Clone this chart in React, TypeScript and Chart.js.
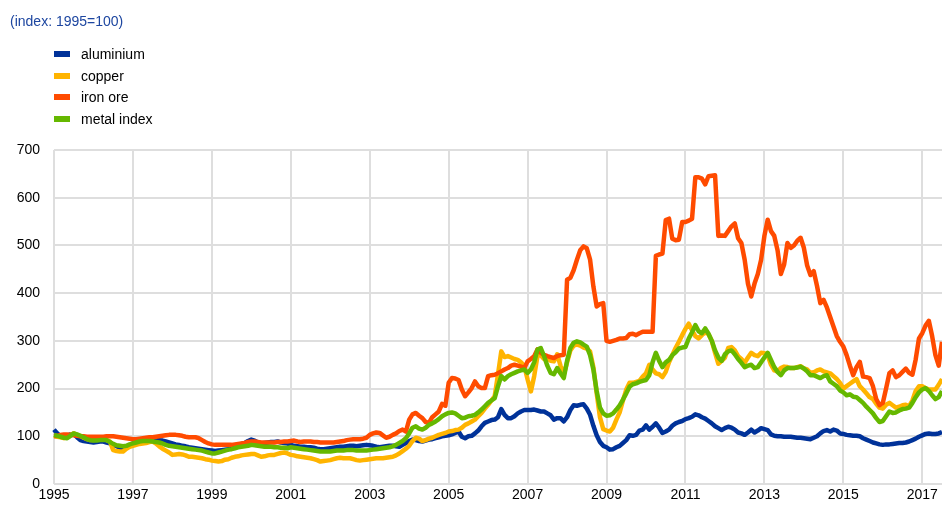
import React, { useEffect, useRef } from "react";
import { Chart, registerables } from "chart.js";

Chart.register(...registerables);

// Tick labels on the x axis (every second year) and the monthly span they cover
const tickYears = ["1995", "1997", "1999", "2001", "2003", "2005", "2007", "2009", "2011", "2013", "2015", "2017"];
const firstYear = 1995;
const monthsShown = 271; // Jan 1995 .. Jul 2017

// Monthly index values (1995 = 100)
const aluminium = [
  114, 106, 100, 99, 101, 104, 105, 98, 92, 90, 89, 88, // 1995
  87, 88, 89, 89, 87, 85, 82, 79, 76, 74, 76, 81, // 1996
  85, 88, 90, 91, 91, 92, 93, 92, 92, 91, 89, 87, // 1997
  85, 83, 82, 80, 79, 77, 76, 75, 74, 73, 72, 71, // 1998
  70, 69, 70, 71, 72, 73, 76, 79, 82, 84, 86, 90, // 1999
  93, 91, 87, 85, 86, 87, 88, 88, 89, 87, 86, 85, // 2000
  82, 80, 79, 78, 78, 77, 77, 76, 74, 73, 73, 74, // 2001
  75, 76, 77, 78, 78, 79, 80, 80, 79, 80, 81, 82, // 2002
  81, 80, 78, 77, 78, 79, 80, 80, 79, 78, 82, 86, // 2003
  90, 93, 92, 90, 89, 91, 93, 94, 96, 98, 100, 101, // 2004
  102, 104, 107, 110, 99, 96, 100, 101, 106, 112, 121, 128, // 2005
  131, 134, 135, 140, 157, 145, 138, 138, 142, 148, 152, 155, // 2006
  155, 155, 156, 154, 152, 152, 148, 144, 135, 138, 138, 131, // 2007
  140, 155, 165, 164, 166, 167, 158, 145, 122, 102, 88, 80, // 2008
  77, 72, 73, 77, 80, 86, 92, 102, 101, 103, 112, 114, // 2009
  123, 114, 120, 127, 118, 107, 110, 114, 122, 127, 130, 132, // 2010
  136, 138, 141, 146, 144, 140, 137, 132, 127, 121, 117, 113, // 2011
  117, 120, 118, 114, 108, 106, 103, 108, 114, 108, 112, 117, // 2012
  115, 113, 104, 101, 100, 100, 99, 99, 99, 98, 97, 97, // 2013
  96, 95, 94, 97, 100, 106, 111, 113, 110, 114, 112, 106, // 2014
  105, 103, 102, 101, 101, 100, 96, 93, 90, 87, 85, 83, // 2015
  82, 83, 83, 84, 85, 86, 86, 87, 89, 92, 95, 99, // 2016
  102, 105, 106, 105, 105, 106, 109, // 2017
];

const copper = [
  101, 99, 98, 96, 98, 103, 106, 103, 101, 97, 94, 92, // 1995
  92, 93, 94, 94, 92, 89, 71, 69, 68, 68, 74, 78, // 1996
  80, 82, 84, 85, 86, 88, 89, 85, 79, 74, 70, 66, // 1997
  61, 62, 63, 62, 60, 57, 57, 56, 55, 54, 52, 51, // 1998
  49, 48, 47, 48, 51, 52, 55, 57, 58, 60, 61, 62, // 1999
  63, 63, 60, 57, 58, 60, 61, 61, 63, 65, 66, 64, // 2000
  61, 60, 58, 57, 56, 55, 54, 52, 50, 47, 48, 49, // 2001
  50, 52, 54, 55, 54, 54, 54, 52, 50, 49, 50, 51, // 2002
  52, 53, 54, 54, 54, 55, 56, 57, 60, 64, 69, 74, // 2003
  80, 90, 97, 95, 90, 92, 95, 97, 100, 103, 105, 107, // 2004
  110, 111, 113, 114, 118, 124, 127, 131, 135, 142, 149, 158, // 2005
  166, 175, 184, 230, 278, 266, 268, 265, 262, 260, 255, 247, // 2006
  219, 194, 226, 268, 270, 262, 264, 258, 257, 272, 248, 229, // 2007
  255, 280, 290, 292, 290, 286, 284, 278, 245, 190, 140, 115, // 2008
  112, 110, 118, 135, 150, 175, 198, 212, 212, 214, 216, 225, // 2009
  232, 250, 240, 232, 230, 224, 235, 255, 270, 285, 298, 312, // 2010
  325, 336, 322, 310, 305, 312, 318, 314, 300, 275, 252, 258, // 2011
  265, 285, 287, 280, 268, 262, 254, 265, 275, 270, 268, 275, // 2012
  274, 270, 250, 238, 236, 243, 246, 245, 243, 243, 245, 247, // 2013
  242, 240, 233, 234, 238, 240, 236, 234, 232, 226, 220, 212, // 2014
  200, 205, 210, 215, 220, 205, 198, 190, 182, 178, 168, 160, // 2015
  158, 166, 170, 165, 160, 162, 165, 166, 163, 175, 195, 205, // 2016
  205, 201, 198, 198, 198, 208, 220, // 2017
];

const ironOre = [
  100, 101, 103, 104, 104, 103, 102, 101, 100, 100, 99, 99, // 1995
  99, 99, 99, 99, 100, 100, 100, 99, 98, 97, 96, 95, // 1996
  94, 94, 95, 96, 97, 98, 98, 99, 100, 101, 102, 103, // 1997
  103, 103, 102, 101, 99, 98, 98, 98, 96, 92, 88, 85, // 1998
  83, 82, 82, 82, 82, 82, 82, 83, 84, 85, 86, 88, // 1999
  89, 89, 88, 87, 87, 87, 87, 87, 88, 88, 89, 89, // 2000
  90, 91, 89, 88, 89, 89, 89, 88, 88, 87, 87, 87, // 2001
  87, 87, 88, 89, 90, 92, 93, 94, 94, 94, 95, 97, // 2002
  103, 106, 108, 107, 102, 97, 99, 103, 106, 111, 114, 110, // 2003
  135, 146, 149, 143, 138, 130, 128, 140, 146, 152, 168, 164, // 2004
  212, 222, 221, 218, 198, 184, 192, 201, 215, 205, 201, 201, // 2005
  226, 228, 229, 232, 236, 240, 243, 248, 250, 248, 246, 243, // 2006
  257, 262, 268, 282, 275, 271, 268, 266, 264, 268, 270, 271, // 2007
  428, 432, 448, 470, 490, 498, 494, 470, 414, 372, 377, 379, // 2008
  300, 298, 300, 302, 305, 305, 306, 314, 315, 312, 316, 319, // 2009
  319, 319, 319, 478, 481, 483, 553, 556, 514, 511, 512, 549, // 2010
  549, 552, 556, 643, 643, 640, 628, 645, 646, 647, 520, 521, // 2011
  520, 530, 540, 546, 515, 505, 470, 420, 393, 420, 440, 470, // 2012
  520, 554, 530, 520, 490, 440, 460, 505, 495, 500, 510, 516, // 2013
  495, 458, 438, 446, 415, 379, 386, 370, 350, 330, 310, 298, // 2014
  288, 270, 248, 228, 245, 256, 225, 224, 222, 205, 178, 165, // 2015
  170, 200, 232, 238, 224, 228, 235, 242, 233, 229, 261, 305, // 2016
  316, 332, 342, 310, 270, 248, 298, // 2017
];

const metalIndex = [
  103, 101, 99, 97, 96, 101, 106, 104, 101, 98, 94, 92, // 1995
  91, 91, 92, 92, 92, 88, 84, 81, 80, 79, 80, 83, // 1996
  85, 87, 89, 90, 90, 90, 89, 88, 87, 85, 82, 80, // 1997
  79, 78, 77, 76, 75, 74, 73, 72, 71, 70, 68, 66, // 1998
  64, 64, 66, 68, 70, 72, 73, 75, 77, 78, 79, 80, // 1999
  82, 81, 80, 79, 78, 78, 78, 77, 77, 76, 76, 75, // 2000
  77, 76, 75, 74, 73, 72, 71, 70, 69, 68, 68, 68, // 2001
  68, 69, 70, 70, 70, 71, 71, 71, 70, 70, 70, 70, // 2002
  71, 72, 73, 74, 75, 76, 77, 79, 82, 86, 90, 96, // 2003
  106, 118, 121, 116, 114, 118, 124, 127, 131, 136, 142, 146, // 2004
  149, 150, 148, 143, 138, 139, 142, 143, 145, 150, 156, 163, // 2005
  170, 175, 180, 205, 226, 219, 226, 230, 233, 236, 238, 240, // 2006
  233, 240, 255, 282, 285, 268, 248, 233, 230, 243, 232, 222, // 2007
  258, 285, 296, 299, 297, 292, 288, 270, 240, 195, 160, 148, // 2008
  143, 144, 148, 156, 165, 177, 190, 204, 209, 211, 214, 216, // 2009
  218, 228, 255, 275, 258, 245, 255, 260, 270, 276, 284, 286, // 2010
  287, 305, 318, 333, 320, 316, 326, 315, 300, 280, 265, 258, // 2011
  272, 278, 280, 272, 262, 254, 245, 248, 250, 243, 245, 255, // 2012
  265, 275, 260, 245, 235, 228, 238, 243, 243, 243, 244, 246, // 2013
  242, 236, 228, 228, 225, 222, 226, 228, 215, 210, 205, 196, // 2014
  192, 186, 188, 183, 182, 176, 170, 162, 155, 148, 138, 130, // 2015
  132, 142, 152, 149, 150, 154, 157, 158, 160, 170, 182, 192, // 2016
  198, 201, 195, 186, 178, 182, 195, // 2017
];

const seriesNames = ["aluminium", "copper", "iron ore", "metal index"];
const seriesColors = ["#003299", "#FFB400", "#FF4B00", "#65B800"];
const titleText = "(index: 1995=100)";

const FONT = 'Arial, "Liberation Sans", sans-serif';

export default function App() {
  const canvasRef = useRef<HTMLCanvasElement | null>(null);

  useEffect(() => {
    const canvas = canvasRef.current;
    if (!canvas) return;

    const labels: string[] = [];
    for (let i = 0; i < monthsShown; i++) {
      const y = firstYear + Math.floor(i / 12);
      const m = (i % 12) + 1;
      labels.push(`${y}-${m < 10 ? "0" + m : m}`);
    }
    const tickAt = (i: number) => {
      if (i % 12 !== 0) return "";
      const yr = String(firstYear + i / 12);
      return tickYears.includes(yr) ? yr : "";
    };

    const values = [aluminium, copper, ironOre, metalIndex];
    const drawOrder = [3, 2, 1, 0];

    const chart = new Chart(canvas, {
      type: "line",
      data: {
        labels,
        datasets: values.map((v, k) => ({
          label: seriesNames[k],
          data: v,
          borderColor: seriesColors[k],
          backgroundColor: seriesColors[k],
          borderWidth: 4.5,
          pointRadius: 0,
          tension: 0,
          fill: false,
          order: drawOrder[k],
          borderJoinStyle: "round" as const,
        })),
      },
      options: {
        responsive: false,
        animation: false,
        events: [],
        layout: { padding: { top: 150, left: 0, right: 0, bottom: 0 } },
        plugins: {
          legend: { display: false },
          tooltip: { enabled: false },
          title: { display: false },
        },
        scales: {
          x: {
            type: "category",
            border: { display: false },
            grid: {
              drawTicks: false,
              lineWidth: 2,
              color: (ctx: any) => (tickAt(ctx.index) ? "#dedede" : "rgba(0,0,0,0)"),
            },
            ticks: {
              autoSkip: false,
              maxRotation: 0,
              minRotation: 0,
              padding: 3,
              color: "#000",
              font: { family: FONT, size: 14 },
              callback: (_v: any, i: number) => tickAt(i),
            },
            afterFit: (s: any) => {
              s.height = 26;
              s.paddingRight = 0;
              s.paddingLeft = 0;
            },
          },
          y: {
            min: 0,
            max: 700,
            border: { display: false },
            grid: { drawTicks: false, lineWidth: 2, color: "#dedede" },
            ticks: {
              stepSize: 100,
              padding: 14,
              color: "#000",
              font: { family: FONT, size: 14 },
            },
            afterFit: (s: any) => {
              s.width = 54;
            },
          },
        },
      },
    });
    return () => chart.destroy();
  }, []);

  return (
    <div style={{ position: "absolute", left: 0, top: 0, width: 942, height: 510, background: "#fff", fontFamily: FONT }}>
      <canvas ref={canvasRef} width={942} height={510} style={{ position: "absolute", left: 0, top: 0 }} />
      <div style={{ position: "absolute", left: 10, top: 13, fontSize: 14, lineHeight: "16px", color: "#1d46a0", whiteSpace: "nowrap" }}>
        {titleText}
      </div>
      {seriesNames.map((name, k) => (
        <div key={name} style={{ position: "absolute", left: 54, top: 46 + k * 21.6, height: 16, whiteSpace: "nowrap" }}>
          <span style={{ position: "absolute", left: 0, top: 5, width: 16, height: 6, background: seriesColors[k] }} />
          <span style={{ position: "absolute", left: 27, top: 0, fontSize: 14, lineHeight: "16px", color: "#000" }}>{name}</span>
        </div>
      ))}
    </div>
  );
}
